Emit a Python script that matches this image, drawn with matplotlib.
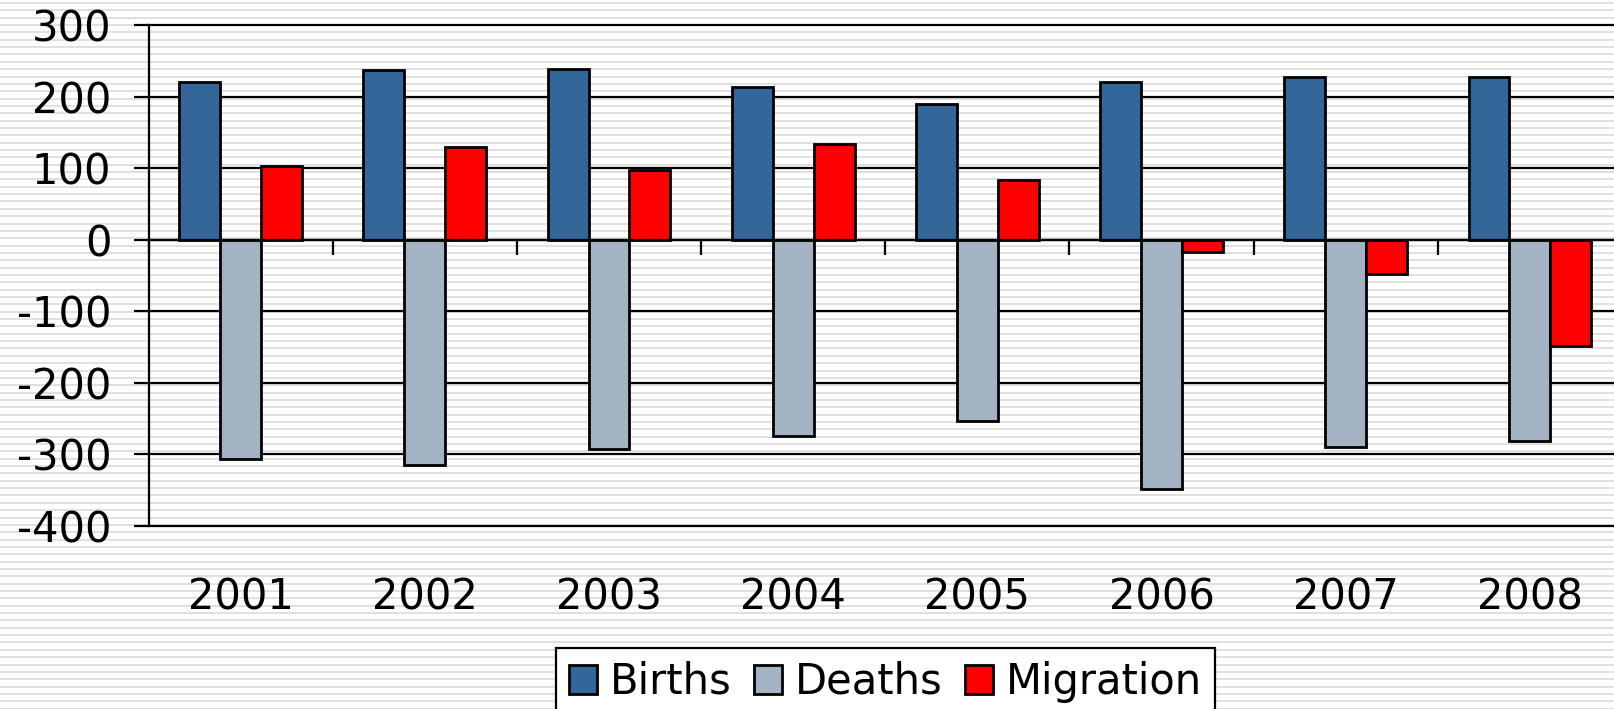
import numpy as np
import matplotlib
matplotlib.use("Agg")
import matplotlib.pyplot as plt

plt.rcParams["axes.unicode_minus"] = False
plt.rcParams["font.family"] = ["DejaVu Sans"]

# data
years = ["2001", "2002", "2003", "2004", "2005", "2006", "2007", "2008"]
births = [221, 237, 239, 214, 190, 220, 228, 228]
deaths = [-307, -315, -293, -274, -253, -348, -289, -281]
migration = [103, 130, 97, 134, 84, -17, -48, -148]
series_names = ["Births", "Deaths", "Migration"]
series_colors = ["#336699", "#A3B3C3", "#FF0000"]

W, H = 1614, 709
fig = plt.figure(figsize=(W / 100, H / 100), dpi=100)

# striped background behind everything
bg = fig.add_axes([0, 0, 1, 1], zorder=-1)
bg.axis("off")
bg.set_xlim(0, 1)
bg.set_ylim(H, 0)
bg.hlines(np.arange(3, H, 7.35), 0, 1, color="#e0e0e0", lw=1.4)

# plot area (right edge runs a little past the picture, as in the original)
left, right, top, bottom = 148.5, 1622, 25, 526
ax = fig.add_axes([left / W, 1 - bottom / H, (right - left) / W, (bottom - top) / H])
ax.set_facecolor("none")

x = np.arange(len(years)) + 0.5
w = 1 / 4.5  # excel gap width 150%
for off, vals, name, col in zip([-w, 0, w], [births, deaths, migration],
                                series_names, series_colors):
    ax.bar(x + off, vals, w, color=col, edgecolor="black", lw=2,
           label=name, zorder=3)

ax.set_xlim(0, len(years))
ax.set_ylim(-400, 300)
ax.set_yticks(range(-400, 301, 100))
ax.yaxis.grid(True, color="black", lw=1.6)
for gl in ax.get_ygridlines():
    gl.set_clip_on(False)
ax.set_axisbelow(True)

for s in ["top", "right"]:
    ax.spines[s].set_visible(False)
ax.spines["left"].set_linewidth(1.6)
ax.spines["bottom"].set_linewidth(1.6)
ax.spines["bottom"].set_position(("data", 0))
ax.spines["bottom"].set_zorder(4)

ax.tick_params(axis="y", direction="out", length=10.8, width=1.6,
               labelsize=30, pad=16)
ax.set_xticks(np.arange(len(years) + 1))
ax.set_xticklabels([])
ax.tick_params(axis="x", direction="out", length=10.8, width=1.6)

# year labels sit below the plot area
sec = ax.secondary_xaxis("bottom")
sec.set_xticks(x, years)
sec.tick_params(length=0, labelsize=30, pad=36)
sec.spines["bottom"].set_visible(False)

leg = ax.legend(loc="upper center", bbox_to_anchor=(885.5 / W, 1 - 648 / H),
                bbox_transform=fig.transFigure, ncol=3, fontsize=30,
                frameon=True, fancybox=False, edgecolor="black", framealpha=1,
                handlelength=0.69, handleheight=0.69, handletextpad=0.31,
                columnspacing=0.52, borderpad=0.31, borderaxespad=0)
leg.get_frame().set_linewidth(1.6)

fig.savefig("out.png", dpi=100)
